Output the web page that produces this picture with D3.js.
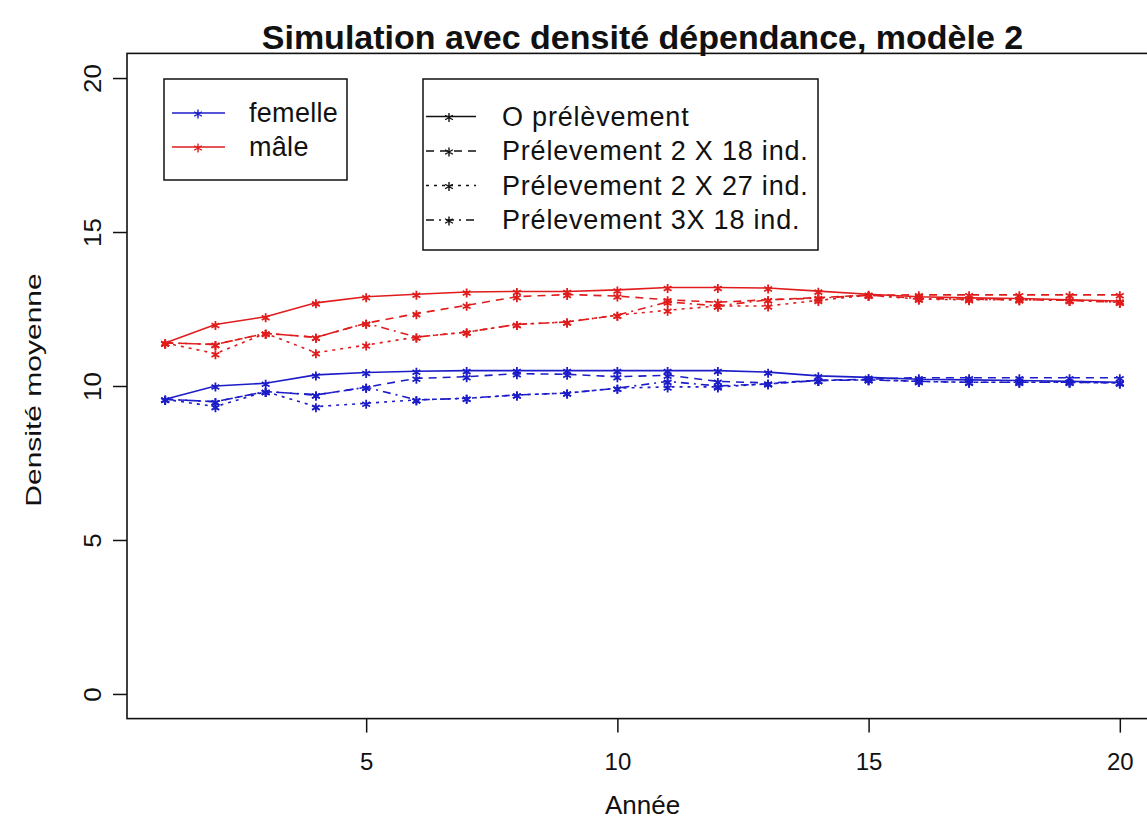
<!DOCTYPE html>
<html>
<head>
<meta charset="utf-8">
<script src="https://cdn.jsdelivr.net/npm/d3@7"></script>
<style>
  body { margin: 0; background: #fff; }
  svg { font-family: "Liberation Sans", Arial, sans-serif; }
</style>
</head>
<body>
<svg width="1147" height="832"></svg>
<script>
var titre = "Simulation avec densité dépendance, modèle 2";
var xaxistitle = "Année";
var yaxistitle = "Densité moyenne";

var annees = [1,2,3,4,5,6,7,8,9,10,11,12,13,14,15,16,17,18,19,20];
var xTicks = [5,10,15,20];
var yTicks = [0,5,10,15,20];

var sexes = ["femelle", "mâle"];
var scenarios = ["O prélèvement", "Prélevement 2 X 18 ind.", "Prélevement 2 X 27 ind.", "Prélevement 3X 18 ind."];

// femelles
var femelle0    = [9.57,10.0,10.09,10.36,10.44,10.48,10.5,10.5,10.5,10.5,10.5,10.5,10.45,10.33,10.28,10.22,10.2,10.18,10.15,10.12];
var femelle2x18 = [9.57,9.49,9.82,9.71,9.96,10.25,10.3,10.4,10.38,10.3,10.35,10.15,10.1,10.18,10.22,10.27,10.27,10.27,10.27,10.27];
var femelle2x27 = [9.57,9.33,9.82,9.33,9.44,9.55,9.6,9.71,9.77,9.93,9.97,9.97,10.07,10.18,10.2,10.15,10.12,10.12,10.12,10.1];
var femelle3x18 = [9.57,9.49,9.82,9.71,9.96,9.55,9.6,9.71,9.77,9.93,10.15,10.0,10.07,10.18,10.2,10.15,10.12,10.12,10.12,10.1];

// males
var male0    = [11.4,12.0,12.25,12.7,12.9,12.98,13.05,13.07,13.07,13.12,13.2,13.2,13.18,13.08,12.98,12.9,12.86,12.84,12.8,12.76];
var male2x18 = [11.4,11.35,11.71,11.58,12.04,12.35,12.62,12.9,12.97,12.92,12.8,12.72,12.8,12.87,12.95,12.96,12.96,12.96,12.96,12.96];
var male2x27 = [11.4,11.05,11.71,11.08,11.33,11.59,11.75,12.0,12.08,12.3,12.46,12.6,12.6,12.78,12.95,12.82,12.8,12.8,12.78,12.72];
var male3x18 = [11.4,11.35,11.71,11.58,12.04,11.59,11.75,12.0,12.08,12.3,12.73,12.6,12.8,12.85,12.95,12.84,12.82,12.8,12.78,12.72];

var valeurs = {
  "femelle": [femelle0, femelle2x18, femelle2x27, femelle3x18],
  "mâle": [male0, male2x18, male2x27, male3x18]
};

var couleurs = { "femelle": "#1c1cc8", "mâle": "#e01c1c" };
var tirets = [null, "8,6", "3,5", "8,5,2,5"];

var svg = d3.select("svg");

// zone du graphique (comme R : 4% de marge de chaque coté)
var pLeft = 127, pRight = 1158, pTop = 53.4, pBottom = 718.6;

var x = d3.scaleLinear().domain([0.24, 20.76]).range([pLeft, pRight]);
var y = d3.scaleLinear().domain([-0.8, 20.8]).range([pBottom, pTop]);

// cadre
svg.append("rect")
   .attr("x", pLeft).attr("y", pTop)
   .attr("width", pRight - pLeft).attr("height", pBottom - pTop)
   .attr("fill", "none")
   .attr("stroke", "#111")
   .attr("stroke-width", 1.6);

// axe x
var gx = svg.append("g")
   .attr("transform", "translate(0," + pBottom + ")")
   .call(d3.axisBottom(x).tickValues(xTicks).tickSize(14).tickPadding(20));
gx.select(".domain").remove();
gx.selectAll("line").attr("stroke", "#111").attr("stroke-width", 1.5);
gx.selectAll("text").attr("font-size", 24).attr("fill", "#111");

// axe y (étiquettes verticales)
var gy = svg.append("g")
   .attr("transform", "translate(" + pLeft + ",0)")
   .call(d3.axisLeft(y).tickValues(yTicks).tickSize(14));
gy.select(".domain").remove();
gy.selectAll("line").attr("stroke", "#111").attr("stroke-width", 1.5);
gy.selectAll("text")
  .attr("font-size", 24)
  .attr("fill", "#111")
  .attr("x", null)
  .attr("text-anchor", "middle")
  .attr("transform", "translate(-34,0) rotate(-90) scale(1.08,1)")
  .attr("dy", "0.35em");

svg.append("text")
   .attr("x", (pLeft + pRight) / 2).attr("y", 49)
   .attr("text-anchor", "middle")
   .attr("font-weight", "bold")
   .attr("font-size", 34)
   .attr("fill", "#111")
   .text(titre);

svg.append("text")
   .attr("x", (pLeft + pRight) / 2).attr("y", 814)
   .attr("text-anchor", "middle")
   .attr("font-size", 26)
   .attr("fill", "#111")
   .text(xaxistitle);

svg.append("text")
   .attr("transform", "translate(41,390) rotate(-90) scale(1.25,0.95)")
   .attr("text-anchor", "middle")
   .attr("font-size", 24)
   .attr("fill", "#111")
   .text(yaxistitle);

// petite étoile (pch = "*")
function etoile(cx, cy) {
  var r = 4.5, p = "";
  for (var k = 0; k < 3; k++) {
    var a = Math.PI / 2 + k * Math.PI / 3;
    p += "M" + (cx + r * Math.cos(a)) + "," + (cy + r * Math.sin(a)) +
         "L" + (cx - r * Math.cos(a)) + "," + (cy - r * Math.sin(a));
  }
  return p;
}

var line = d3.line()
   .x(function(d) { return x(d.annee); })
   .y(function(d) { return y(d.v); });

sexes.forEach(function(s) {
  valeurs[s].forEach(function(serie, i) {
    var pts = serie.map(function(v, j) { return { annee: annees[j], v: v }; });
    var g = svg.append("g").attr("class", "serie");
    g.append("path")
     .datum(pts)
     .attr("d", line)
     .attr("fill", "none")
     .attr("stroke", couleurs[s])
     .attr("stroke-width", 1.6)
     .attr("stroke-dasharray", tirets[i]);
    g.selectAll(".pt")
     .data(pts)
     .enter().append("path")
     .attr("class", "pt")
     .attr("d", function(d) { return etoile(x(d.annee), y(d.v) + 1); })
     .attr("stroke", couleurs[s])
     .attr("stroke-width", 1.8);
  });
});

// légende des sexes
var leg1 = svg.append("g");
leg1.append("rect")
    .attr("x", 164).attr("y", 79).attr("width", 183).attr("height", 101)
    .attr("fill", "#fff").attr("stroke", "#111").attr("stroke-width", 1.5);
sexes.forEach(function(s, i) {
  var yy = 113 + i * 34;
  leg1.append("line")
      .attr("x1", 172).attr("x2", 225).attr("y1", yy).attr("y2", yy)
      .attr("stroke", couleurs[s]).attr("stroke-width", 1.6);
  leg1.append("path").attr("d", etoile(198, yy + 1))
      .attr("stroke", couleurs[s]).attr("stroke-width", 1.4);
  leg1.append("text")
      .attr("x", 249).attr("y", yy).attr("dy", "0.35em")
      .attr("font-size", 27).attr("fill", "#111")
      .attr("letter-spacing", 0.3)
      .text(s);
});

// légende des scénarios
var leg2 = svg.append("g");
leg2.append("rect")
    .attr("x", 423).attr("y", 79).attr("width", 395).attr("height", 171)
    .attr("fill", "#fff").attr("stroke", "#111").attr("stroke-width", 1.5);
scenarios.forEach(function(sc, i) {
  var yy = 116.5 + i * 34.5;
  leg2.append("line")
      .attr("x1", 426).attr("x2", 476).attr("y1", yy).attr("y2", yy)
      .attr("stroke", "#111").attr("stroke-width", 1.5)
      .attr("stroke-dasharray", tirets[i]);
  leg2.append("path").attr("d", etoile(449, yy + 1))
      .attr("stroke", "#111").attr("stroke-width", 1.4);
  leg2.append("text")
      .attr("x", 502).attr("y", yy).attr("dy", "0.35em")
      .attr("font-size", 27).attr("fill", "#111")
      .attr("letter-spacing", 0.8)
      .text(sc);
});
</script>
</body>
</html>
